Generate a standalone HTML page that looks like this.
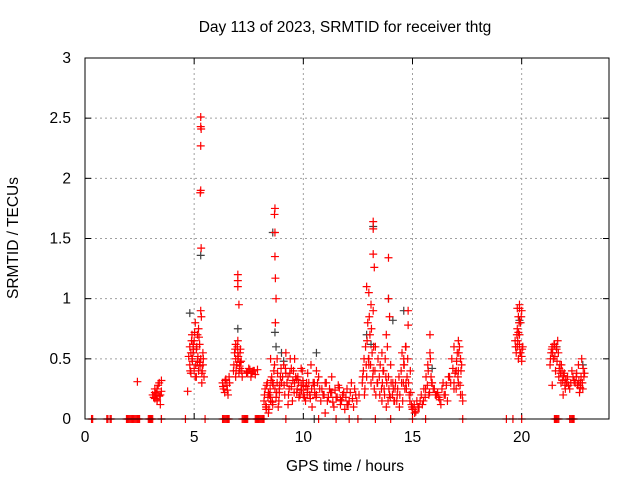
<!DOCTYPE html>
<html><head><meta charset="utf-8"><style>
body{margin:0;background:#fff;}
svg{display:block;font-family:"Liberation Sans",sans-serif;}
</style></head><body>
<svg id="chart" width="640" height="480" viewBox="0 0 640 480" xmlns="http://www.w3.org/2000/svg">
<text x="345" y="32" font-size="15.5" text-anchor="middle">Day 113 of 2023, SRMTID for receiver thtg</text>
<text x="345" y="471" font-size="15.5" text-anchor="middle">GPS time / hours</text>
<text x="18" y="238" font-size="15.5" text-anchor="middle" transform="rotate(-90 18 238)">SRMTID / TECUs</text>
<g id="grid"></g>
<g id="ticks"></g>
<g id="marks-gray"></g>
<g id="marks"></g>
<rect x="85" y="58" width="524" height="361" fill="none" stroke="#000" stroke-width="1"/>
</svg>
<script>
const xTicks=[0,5,10,15,20];
const yTicks=[0,0.5,1,1.5,2,2.5,3];
const yTickLabels=["0","0.5","1","1.5","2","2.5","3"];
const hours=[0.3,1.0,1.2,1.9,2.0,2.1,2.2,2.3,2.4,2.5,2.9,3.0,3.1,3.5,4.6,5.5,6.3,6.4,6.5,6.6,7.2,7.3,7.4,7.8,7.9,8.0,8.1,8.2,9.2,10.7,11.5,12.1,12.5,13.3,14.0,15.0,15.6,17.3,19.3,19.6,20.0,21.5,21.6,21.7,22.2,22.3,22.4,
2.4,3.1,3.2,3.2,3.3,3.3,3.4,3.4,3.5,3.5,3.45,
4.7,4.8,4.8,4.85,4.9,4.9,4.95,5.0,5.0,5.05,5.1,5.1,5.15,5.2,5.2,5.25,5.3,5.3,5.35,5.4,5.4,5.45,5.3,5.3,5.3,5.3,5.32,5.32,5.28,
6.3,6.35,6.4,6.45,6.5,6.55,6.6,6.8,6.85,6.9,6.9,6.95,7.0,7.0,7.05,7.1,7.1,7.15,7.2,7.0,7.0,7.05,7.0,
7.4,7.5,7.6,7.7,7.8,7.9,
8.2,8.25,8.3,8.35,8.4,8.45,8.5,8.55,8.6,8.65,8.7,8.75,8.8,8.85,8.9,8.95,8.7,8.7,8.7,8.72,8.72,8.68,8.75,8.3,8.5,8.6,
9.0,9.1,9.15,9.2,9.3,9.35,9.4,9.5,9.55,9.6,9.7,9.75,9.8,9.9,9.95,10.0,10.1,10.15,10.2,10.3,10.35,10.4,10.5,10.6,10.7,10.8,9.3,9.6,9.9,10.2,10.5,
10.9,11.0,11.1,11.2,11.3,11.4,11.5,11.6,11.7,11.8,11.9,12.0,12.1,12.2,12.3,12.4,11.0,11.3,11.7,12.0,
12.7,12.75,12.8,12.85,12.9,12.95,13.0,13.0,13.05,13.1,13.1,13.15,13.2,13.2,13.25,13.3,13.2,13.2,13.2,13.25,12.9,13.0,
13.4,13.5,13.6,13.65,13.7,13.75,13.8,13.85,13.9,13.95,14.0,14.1,14.15,14.2,13.9,13.95,13.9,13.6,13.8,
14.3,14.4,14.5,14.55,14.6,14.65,14.7,14.75,14.8,14.85,14.9,14.95,15.0,15.1,15.2,15.3,15.4,14.7,14.8,14.6,
15.5,15.6,15.7,15.75,15.8,15.85,15.9,16.0,16.1,16.2,16.3,16.4,16.5,16.6,16.7,16.8,16.9,17.0,17.05,17.1,17.15,17.2,17.25,17.3,15.8,16.9,17.1,17.2,
19.7,19.75,19.8,19.8,19.85,19.85,19.9,19.9,19.95,19.95,20.0,20.0,20.05,19.9,19.85,
21.3,21.35,21.4,21.45,21.5,21.55,21.6,21.65,21.7,21.75,21.8,21.85,21.9,21.95,22.0,22.05,22.1,22.2,22.3,22.4,22.5,22.55,22.6,22.65,22.7,22.75,22.8,22.85,21.4,
0.35,1.05,1.15,1.95,2.05,2.15,2.25,2.35,2.45,2.95,3.05,6.35,6.45,6.55,7.25,7.35,7.45,7.85,7.95,8.05,8.15,21.55,21.65,22.25,22.35,
3.15,3.25,3.35,3.45,3.2,3.3,
4.75,4.82,4.88,4.92,4.97,5.02,5.07,5.12,5.17,5.22,5.27,5.33,5.37,5.42,4.85,4.95,5.05,5.15,5.25,5.35,
6.32,6.42,6.52,6.62,6.82,6.88,6.92,6.98,7.02,7.08,7.12,7.18,6.9,7.0,7.1,7.45,7.55,7.65,7.75,
8.22,8.28,8.32,8.38,8.42,8.48,8.52,8.58,8.62,8.68,8.78,8.82,8.88,8.92,8.98,8.3,8.4,8.5,8.6,8.8,8.9,
9.05,9.12,9.18,9.25,9.32,9.38,9.45,9.52,9.58,9.65,9.72,9.78,9.85,9.92,9.98,10.05,10.12,10.18,10.25,10.32,10.38,10.45,10.52,10.58,10.65,10.75,9.2,9.45,9.7,10.0,10.3,10.6,
10.85,10.95,11.05,11.15,11.25,11.35,11.45,11.55,11.65,11.75,11.85,11.95,12.05,12.15,12.25,12.35,12.45,12.55,
12.72,12.78,12.82,12.88,12.92,12.98,13.02,13.08,13.12,13.18,13.22,13.28,13.32,13.38,13.42,13.48,13.52,13.58,13.62,13.68,13.72,13.78,13.82,13.88,13.92,13.98,14.02,14.08,14.12,14.18,
14.22,14.28,14.32,14.38,14.42,14.48,14.52,14.58,14.62,14.68,14.72,14.78,14.82,14.88,14.92,14.98,15.02,15.08,15.15,15.25,15.35,15.45,
15.52,15.58,15.62,15.68,15.72,15.78,15.82,15.88,15.95,16.05,16.15,16.25,16.35,16.45,16.55,16.65,16.75,16.85,16.95,17.02,17.08,17.12,17.18,17.22,17.28,16.9,17.0,17.1,
19.72,19.78,19.82,19.88,19.92,19.98,20.02,19.8,19.9,20.0,
21.32,21.38,21.42,21.48,21.52,21.58,21.62,21.68,21.72,21.78,21.82,21.88,21.92,21.98,22.02,22.08,22.15,22.25,22.35,22.45,22.52,22.58,22.62,22.68,22.72,22.78,22.82,22.88];
const tec=[0,0,0,0,0,0,0,0,0,0,0,0,0,0,0,0,0,0,0,0,0,0,0,0,0,0,0,0,0,0,0,0,0,0,0,0,0,0,0,0,0,0,0,0,0,0,0,
0.31,0.2,0.17,0.22,0.15,0.25,0.19,0.3,0.23,0.32,0.12,
0.23,0.45,0.6,0.38,0.7,0.5,0.55,0.65,0.42,0.8,0.35,0.58,0.48,0.75,0.4,0.62,0.9,0.5,0.3,0.55,0.45,0.35,2.51,2.43,2.27,1.9,1.42,2.41,1.88,
0.3,0.25,0.22,0.33,0.28,0.2,0.35,0.4,0.55,0.35,0.62,0.45,0.65,0.5,0.38,0.55,0.42,0.48,0.35,1.2,1.15,0.95,1.1,
0.38,0.42,0.35,0.4,0.37,0.41,
0.15,0.25,0.1,0.3,0.05,0.2,0.15,0.35,0.12,0.4,0.25,0.18,0.3,0.1,0.22,0.35,1.75,1.55,1.35,1.17,0.8,1.7,1.0,0.08,0.5,0.3,
0.3,0.45,0.2,0.55,0.35,0.25,0.5,0.15,0.4,0.3,0.22,0.35,0.18,0.28,0.4,0.2,0.15,0.3,0.25,0.2,0.45,0.1,0.28,0.2,0.35,0.15,0.12,0.5,0.42,0.38,0.3,
0.2,0.3,0.15,0.25,0.35,0.1,0.18,0.28,0.12,0.2,0.08,0.25,0.15,0.3,0.1,0.2,0.05,0.22,0.16,0.12,
0.3,0.4,0.2,0.6,0.35,0.8,0.5,1.05,0.7,0.95,0.3,0.55,0.9,0.4,0.25,0.6,1.64,1.58,1.37,1.26,1.1,0.45,
0.3,0.2,0.15,0.4,0.25,0.5,0.1,0.6,0.35,0.2,0.45,0.3,0.15,0.25,1.34,0.85,1.0,0.55,0.7,
0.2,0.1,0.3,0.15,0.5,0.25,0.6,0.35,0.9,0.2,0.4,0.12,0.08,0.05,0.15,0.1,0.2,0.3,0.78,0.45,
0.15,0.25,0.45,0.2,0.55,0.35,0.3,0.25,0.2,0.18,0.12,0.3,0.2,0.15,0.35,0.5,0.25,0.4,0.55,0.3,0.6,0.2,0.45,0.15,0.7,0.6,0.65,0.5,
0.65,0.55,0.75,0.6,0.85,0.5,0.95,0.7,0.8,0.55,0.9,0.48,0.6,0.92,0.72,
0.45,0.55,0.6,0.5,0.62,0.4,0.58,0.65,0.35,0.45,0.3,0.4,0.2,0.38,0.25,0.3,0.35,0.25,0.4,0.32,0.35,0.28,0.45,0.22,0.3,0.5,0.25,0.35,0.28,
0,0,0,0,0,0,0,0,0,0,0,0,0,0,0,0,0,0,0,0,0,0,0,0,0,
0.18,0.21,0.28,0.2,0.25,0.16,
0.52,0.4,0.65,0.48,0.58,0.72,0.45,0.6,0.52,0.68,0.44,0.85,0.4,0.5,0.55,0.62,0.35,0.7,0.47,0.38,
0.27,0.32,0.24,0.3,0.45,0.58,0.4,0.6,0.52,0.44,0.58,0.4,0.5,0.55,0.47,0.39,0.41,0.38,0.4,
0.2,0.12,0.28,0.18,0.08,0.25,0.32,0.14,0.28,0.45,0.22,0.38,0.15,0.28,0.42,0.1,0.22,0.18,0.3,0.5,0.25,
0.35,0.28,0.42,0.3,0.2,0.38,0.27,0.32,0.22,0.35,0.25,0.3,0.2,0.24,0.32,0.18,0.27,0.22,0.3,0.17,0.25,0.3,0.22,0.18,0.3,0.25,0.38,0.42,0.33,0.28,0.2,0.4,
0.25,0.2,0.3,0.18,0.22,0.14,0.24,0.18,0.26,0.15,0.22,0.18,0.12,0.22,0.17,0.25,0.15,0.2,
0.35,0.5,0.25,0.45,0.65,0.5,0.85,0.45,0.75,0.35,0.6,0.4,0.2,0.3,0.5,0.35,0.45,0.25,0.3,0.4,0.2,0.35,0.3,0.15,0.25,0.18,0.3,0.2,0.25,0.15,
0.3,0.15,0.25,0.35,0.2,0.4,0.55,0.3,0.45,0.6,0.25,0.5,0.3,0.15,0.22,0.1,0.08,0.12,0.06,0.1,0.15,0.12,
0.25,0.18,0.35,0.28,0.4,0.22,0.5,0.3,0.25,0.2,0.22,0.16,0.25,0.2,0.28,0.35,0.3,0.42,0.38,0.48,0.35,0.55,0.28,0.4,0.2,0.3,0.25,0.4,
0.6,0.7,0.65,0.8,0.55,0.85,0.58,0.92,0.62,0.52,
0.5,0.58,0.55,0.62,0.52,0.6,0.48,0.55,0.42,0.38,0.45,0.32,0.36,0.28,0.33,0.3,0.28,0.3,0.35,0.3,0.38,0.28,0.32,0.26,0.35,0.3,0.42,0.38];
const grayHours=[5.3,4.8,7.0,8.7,8.6,9.0,10.6,13.2,13.9,14.6,19.9,21.6,22.8,3.5,10.5,12.9,13.1,14.1,15.9,8.75,9.1];
const grayTec=[1.36,0.88,0.75,0.72,1.55,0.55,0.55,1.6,1.0,0.9,0.82,0.6,0.45,0,0,0.7,0.62,0.82,0.42,0.6,0.48];

const X0=85,X1=609,Y0=419,Y1=58,XMAX=24,YMAX=3;
const sx=h=>X0+h/XMAX*(X1-X0);
const sy=v=>Y0-v/YMAX*(Y0-Y1);
const NS='http://www.w3.org/2000/svg';
const grid=document.getElementById('grid'),ticks=document.getElementById('ticks');
function mk(tag,attrs,parent){const e=document.createElementNS(NS,tag);for(const k in attrs)e.setAttribute(k,attrs[k]);parent.appendChild(e);return e;}
xTicks.forEach(t=>{const x=sx(t);
 if(t>0){const g=mk('line',{x1:x,x2:x,y1:Y1,y2:Y0,stroke:'#a0a0a0','stroke-dasharray':'2,3'},grid);}
 const a=mk('line',{x1:x,x2:x,y1:Y0,y2:Y0-6,stroke:'#000'},ticks);
 const b=mk('line',{x1:x,x2:x,y1:Y1,y2:Y1+6,stroke:'#000'},ticks);
 const l=mk('text',{x:x,y:Y0+23,'font-size':15.5,'text-anchor':'middle'},ticks);l.textContent=t;});
yTicks.forEach((t,i)=>{const y=sy(t);
 if(t>0&&t<YMAX){const g=mk('line',{x1:X0,x2:X1,y1:y,y2:y,stroke:'#a0a0a0','stroke-dasharray':'2,3'},grid);}
 const a=mk('line',{x1:X0,x2:X0+6,y1:y,y2:y,stroke:'#000'},ticks);
 const b=mk('line',{x1:X1,x2:X1-6,y1:y,y2:y,stroke:'#000'},ticks);
 const l=mk('text',{x:X0-14,y:y+5,'font-size':15.5,'text-anchor':'end'},ticks);l.textContent=yTickLabels[i];});
function plus(g,h,v,col){const x=sx(h),y=sy(v);
 const p=mk('path',{d:`M${x-4},${y}h8M${x},${y-4}v8`,stroke:col,'stroke-width':1.2,fill:'none'},g);
 
 }
const gg=document.getElementById('marks-gray');
grayHours.forEach((h,i)=>plus(gg,h,grayTec[i],'#404040'));
const gr=document.getElementById('marks');
hours.forEach((h,i)=>plus(gr,h,tec[i],'#ff0000'));
</script>
</body></html>
